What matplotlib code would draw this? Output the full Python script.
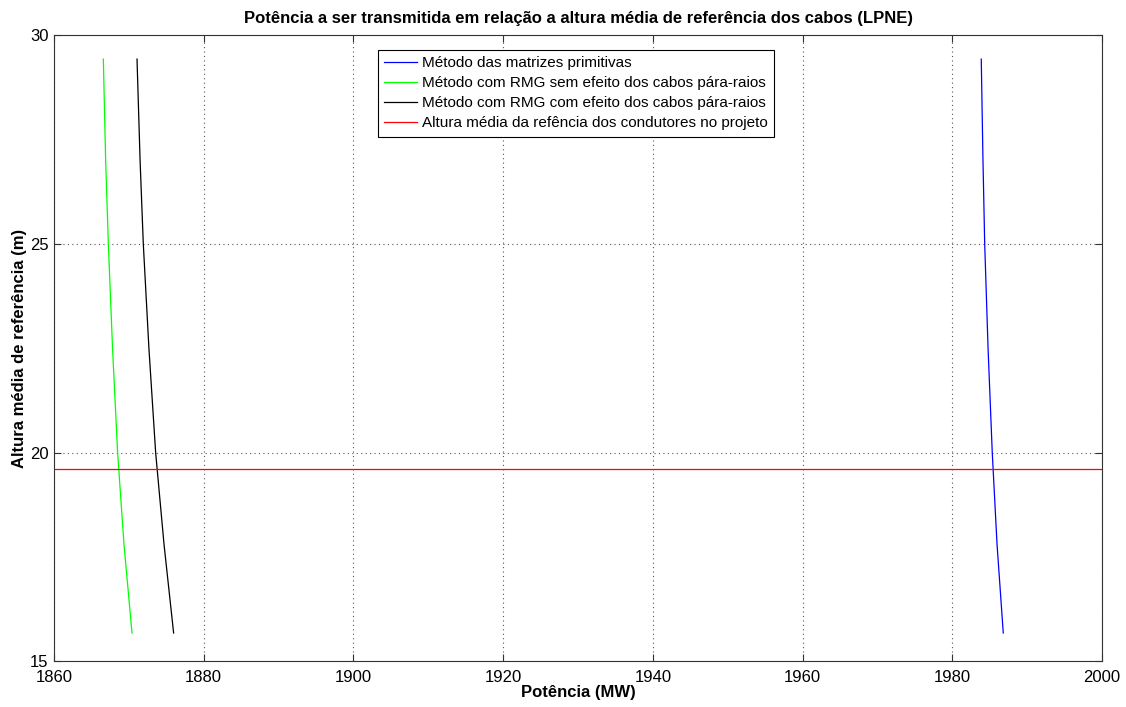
import matplotlib
matplotlib.use("Agg")
import matplotlib.pyplot as plt

plt.rcParams['font.family'] = ['Liberation Sans', 'DejaVu Sans']

# Data
heights = [29.43, 27.0, 25.0, 22.5, 20.0, 17.8, 15.68]
p_primitivas = [1983.87, 1984.10, 1984.33, 1984.78, 1985.34, 1985.98, 1986.81]
p_rmg_sem = [1866.59, 1866.90, 1867.26, 1867.82, 1868.50, 1869.35, 1870.42]
p_rmg_com = [1871.09, 1871.50, 1871.93, 1872.68, 1873.58, 1874.70, 1875.98]
altura_projeto = 19.60

xlim = (1860, 2000)
ylim = (15, 30)
xticks = [1860, 1880, 1900, 1920, 1940, 1960, 1980, 2000]
yticks = [15, 20, 25, 30]

labels = ["Método das matrizes primitivas",
          "Método com RMG sem efeito dos cabos pára-raios",
          "Método com RMG com efeito dos cabos pára-raios",
          "Altura média da refência dos condutores no projeto"]

fig = plt.figure(figsize=(11.26, 7.07), dpi=100)
ax = fig.add_axes([54/1126, 1-661.4/707, 1048/1126, 626.1/707])

lw = 0.9
ax.plot(p_primitivas, heights, color=(0, 0, 1), lw=lw, label=labels[0])
ax.plot(p_rmg_sem, heights, color=(0, 1, 0), lw=lw, label=labels[1])
ax.plot(p_rmg_com, heights, color='k', lw=lw, label=labels[2])
ax.axhline(altura_projeto, color=(1, 0, 0), lw=lw, label=labels[3])

ax.set_xlim(*xlim)
ax.set_ylim(*ylim)
ax.set_xticks(xticks)
ax.set_yticks(yticks)
ax.grid(True, linestyle=(0, (1, 3)), color='#555555', lw=0.8)
ax.tick_params(direction='in', top=True, right=True, labelsize=12, length=5,
               width=0.8, color='#333333')
ax.tick_params(axis='x', pad=6)
ax.tick_params(axis='y', pad=4)
for s in ax.spines.values():
    s.set_linewidth(0.8)
    s.set_color('#333333')

ax.set_title("Potência a ser transmitida em relação a altura média de referência dos cabos (LPNE)",
             fontsize=12, fontweight='bold', pad=9)
ax.set_xlabel("Potência (MW)", fontsize=12, fontweight='bold', labelpad=0)
ax.set_ylabel("Altura média de referência (m)", fontsize=12, fontweight='bold', labelpad=2)

leg = ax.legend(loc='upper left', bbox_to_anchor=(0.309, 0.9765), borderaxespad=0,
                fancybox=False, framealpha=1, edgecolor='k', fontsize=11,
                handlelength=2.15, handletextpad=0.35, labelspacing=0.4,
                borderpad=0.4)
leg.get_frame().set_linewidth(0.8)

fig.savefig("out.png", dpi=100)
